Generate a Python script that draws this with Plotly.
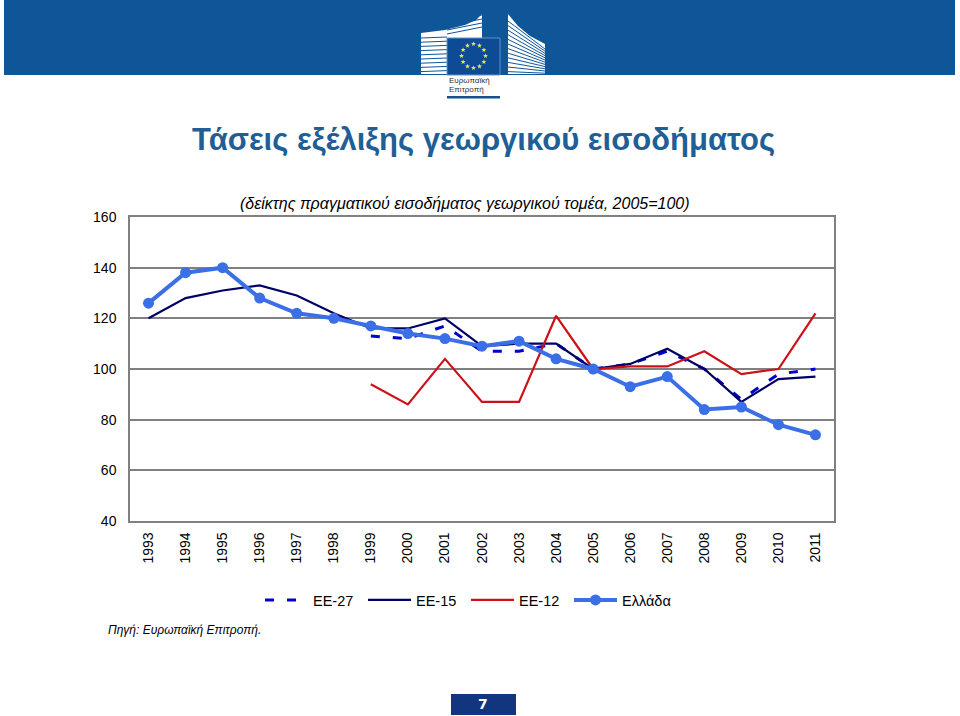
import math
import plotly.graph_objects as go

years = [str(y) for y in range(1993, 2012)]
ee27 = [None, None, None, None, None, None, 113, 112, 117, 107, 107, 110, 100, 102, 107, 100, 88, 98, 100]
ee15 = [120, 128, 131, 133, 129, 122, 116, 116, 120, 109, 110, 110, 100, 102, 108, 100, 87, 96, 97]
ee12 = [None, None, None, None, None, None, 94, 86, 104, 87, 87, 121, 100, 101, 101, 107, 98, 100, 122]
greece = [126, 138, 140, 128, 122, 120, 117, 114, 112, 109, 111, 104, 100, 93, 97, 84, 85, 78, 74]
y_ticks = [40, 60, 80, 100, 120, 140, 160]

W, H = 960, 716
L, R, T, B = 130, 834, 217, 521


# page pixels to paper coordinates, for the header and footer decoration
def px(x):
    return (x - L) / (R - L)


def py(y):
    return (B - y) / (B - T)


def path(points):
    return "M " + " L ".join(f"{px(x):.4f},{py(y):.4f}" for x, y in points) + " Z"


def rect(x0, y0, x1, y1, color):
    return dict(type="rect", xref="paper", yref="paper", x0=px(x0), x1=px(x1), y0=py(y0), y1=py(y1),
                fillcolor=color, line_width=0, layer="below")


def seg(x0, y0, x1, y1, color, width=1):
    return dict(type="line", xref="paper", yref="paper", x0=px(x0), x1=px(x1), y0=py(y0), y1=py(y1),
                line=dict(color=color, width=width), layer="below")


def poly(points, color):
    return dict(type="path", xref="paper", yref="paper", path=path(points), fillcolor=color,
                line_width=0, layer="below")


def label(x, y, text, size, color="#000000", anchor="left", font="Liberation Sans"):
    return dict(xref="paper", yref="paper", x=px(x), y=py(y), text=text, showarrow=False, xanchor=anchor,
                yanchor="middle", font=dict(size=size, color=color, family=font))


BAND = "#0f5699"
shapes = [rect(4, 0, 955, 75, BAND)]

# logo: the two buildings with their stripes
shapes.append(poly([(421, 33), (445, 30), (465, 25), (476, 20), (482, 14), (482, 38), (447, 38), (447, 74), (421, 74)], "#ffffff"))
shapes.append(poly([(508, 14), (518, 26), (530, 36), (545, 44), (545, 74), (508, 74)], "#ffffff"))
for i in range(9):
    shapes.append(seg(421, 38 + i * 4.2, 447, 37 + i * 4.2, BAND))
for i in range(4):
    shapes.append(seg(447, 34 - i * 4, 482, 27 - i * 4, BAND))
for i in range(12):
    shapes.append(seg(508, 21 + i * 4.6, 545, 49 + i * 2.2, BAND))

# logo: flag and stars
shapes.append(dict(type="rect", xref="paper", yref="paper", x0=px(447), x1=px(500), y0=py(38), y1=py(75),
                   fillcolor="#0d4c94", line=dict(color="#5f93c8", width=1), layer="below"))
for i in range(12):
    cx = 473.5 + 12 * math.sin(i * math.pi / 6)
    cy = 56 - 12 * math.cos(i * math.pi / 6)
    pts = []
    for k in range(10):
        r = 2.6 if k % 2 == 0 else 1.1
        pts.append((cx + r * math.sin(k * math.pi / 5), cy - r * math.cos(k * math.pi / 5)))
    shapes.append(poly(pts, "#e6e84a"))
shapes.append(rect(447, 96, 500, 98.5, "#17508f"))

# page number box
shapes.append(rect(451, 694, 516, 715, "#12357f"))

annotations = [
    label(447, 80, "Ευρωπαϊκή", 8, "#333333"),
    label(447, 89, "Επιτροπή", 8, "#333333"),
    label(483, 140, "<b>Τάσεις εξέλιξης γεωργικού εισοδήματος</b>", 31, "#1f5f96", "center"),
    label(465, 203, "<i>(δείκτης πραγματικού εισοδήματος γεωργικού τομέα, 2005=100)</i>", 16, "#000000", "center"),
    label(106, 630, "<i>Πηγή: Ευρωπαϊκή Επιτροπή.</i>", 12),
    label(483, 704, "<b>7</b>", 14, "#ffffff", "center", "DejaVu Sans"),
]

fig = go.Figure()
fig.add_trace(go.Scatter(x=years, y=ee27, name="ΕΕ-27", mode="lines",
                         line=dict(color="#0000cc", width=3, dash="9px,13px")))
fig.add_trace(go.Scatter(x=years, y=ee15, name="ΕΕ-15", mode="lines",
                         line=dict(color="#000066", width=2.2)))
fig.add_trace(go.Scatter(x=years, y=ee12, name="ΕΕ-12", mode="lines",
                         line=dict(color="#cc1118", width=2.2)))
fig.add_trace(go.Scatter(x=years, y=greece, name="Ελλάδα", mode="lines+markers",
                         line=dict(color="#3a6fe8", width=4),
                         marker=dict(color="#3a6fe8", size=11)))

fig.update_layout(
    width=W, height=H,
    margin=dict(l=L, r=W - R, t=T, b=H - B),
    paper_bgcolor="#ffffff", plot_bgcolor="#ffffff",
    font=dict(family="Liberation Sans", size=14, color="#000000"),
    shapes=shapes, annotations=annotations,
    legend=dict(orientation="h", x=px(260), y=py(584), xanchor="left", yanchor="top",
                font=dict(size=14.5), itemwidth=43, entrywidth=45, entrywidthmode="pixels",
                bgcolor="rgba(0,0,0,0)"),
)
fig.update_xaxes(type="category", range=[-0.5, 18.5], tickangle=-90, showgrid=False, showline=True,
                 linecolor="#808080", linewidth=1.5, mirror=True, ticks="outside", ticklen=4,
                 tickcolor="rgba(0,0,0,0)", tickfont=dict(size=14), zeroline=False)
fig.update_yaxes(range=[40, 160], tickvals=y_ticks, showgrid=True, gridcolor="#808080", gridwidth=1.5,
                 showline=True, linecolor="#808080", linewidth=1.5, mirror=True, ticks="outside",
                 ticklen=9, tickcolor="rgba(0,0,0,0)", tickfont=dict(size=14), zeroline=False)

fig.write_html("out.html", config=dict(displayModeBar=False), post_script="document.body.style.margin='0';")
